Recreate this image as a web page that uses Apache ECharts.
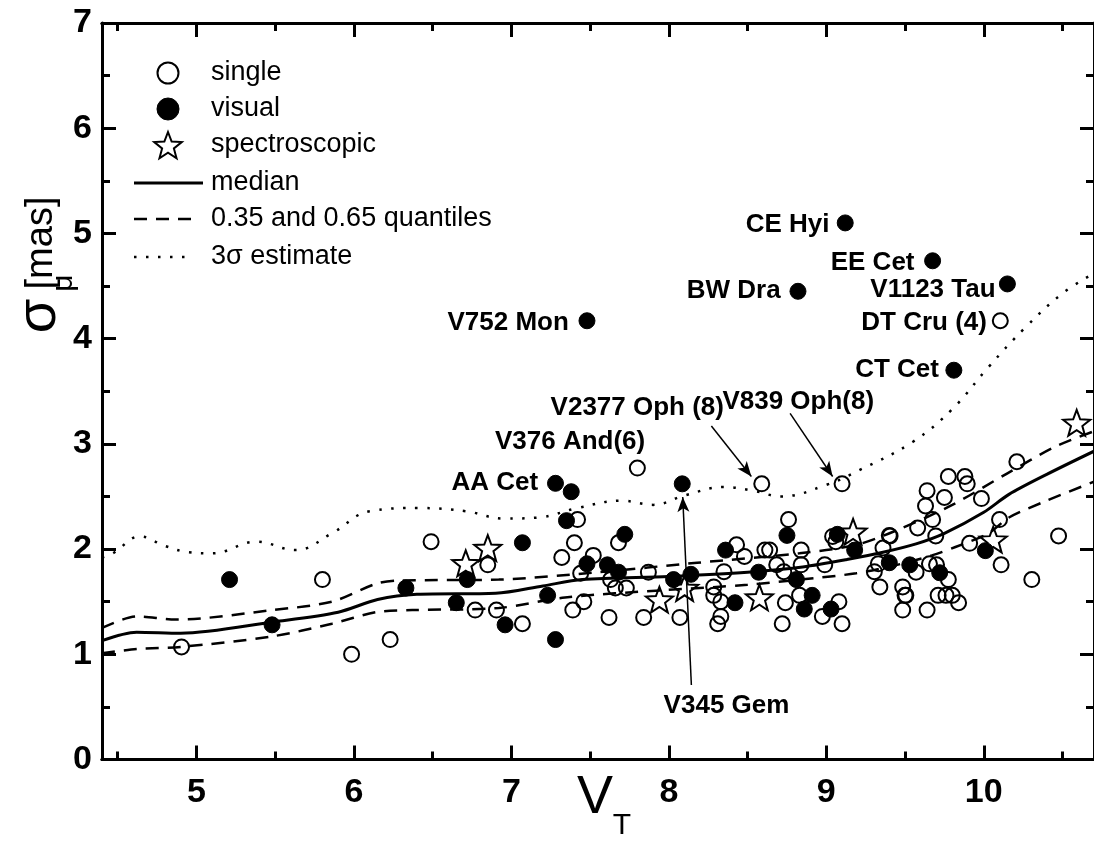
<!DOCTYPE html>
<html>
<head>
<meta charset="utf-8">
<script src="https://cdn.jsdelivr.net/npm/echarts@6/dist/echarts.min.js"></script>
<style>html,body{margin:0;padding:0;background:#fff}#c{width:1094px;height:844px}</style>
</head>
<body>
<div id="c"></div>
<script>
// ---------------- data ----------------
var xMajorTicks = [5, 6, 7, 8, 9, 10];
var xMinorTicks = [4.5, 5.5, 6.5, 7.5, 8.5, 9.5, 10.5];
var yTickLabels = [0, 1, 2, 3, 4, 5, 6, 7];

var single = [
  [4.905,1.07],[5.80,1.71],[5.985,1.00],[6.23,1.14],[6.49,2.07],[6.85,1.85],[6.77,1.42],[6.905,1.42],
  [7.07,1.29],[7.39,1.42],[7.46,1.50],[7.32,1.92],[7.40,2.06],[7.42,2.28],[7.44,1.77],[7.52,1.94],
  [7.80,2.77],[7.68,2.06],[7.63,1.71],[7.66,1.63],[7.73,1.63],[7.87,1.78],[7.62,1.35],[7.84,1.35],
  [8.07,1.35],[8.43,2.04],[8.48,1.93],[8.35,1.785],[8.285,1.64],[8.285,1.56],[8.33,1.50],[8.33,1.36],
  [8.31,1.29],[8.59,2.62],[9.10,2.62],[8.76,2.28],[8.61,1.99],[8.64,1.99],[8.84,1.99],[9.06,2.07],
  [9.04,2.12],[9.40,2.13],[9.36,2.01],[8.685,1.85],[8.73,1.785],[8.84,1.85],[8.99,1.85],[8.83,1.56],
  [8.74,1.49],[8.975,1.36],[9.08,1.50],[9.10,1.29],[8.72,1.29],[9.305,1.785],[9.34,1.64],[9.485,1.64],
  [9.505,1.56],[9.485,1.42],[10.21,2.83],[9.775,2.69],[9.88,2.69],[9.895,2.62],[9.64,2.555],[9.75,2.49],
  [9.985,2.48],[9.63,2.41],[9.675,2.28],[9.58,2.20],[9.695,2.125],[9.405,2.125],[10.10,2.28],[10.475,2.125],
  [9.91,2.055],[10.11,1.85],[10.305,1.71],[9.57,1.78],[9.655,1.86],[9.70,1.85],[9.775,1.71],[9.50,1.56],
  [9.71,1.56],[9.76,1.56],[9.80,1.56],[9.84,1.49],[9.64,1.42],[9.33,1.86],[10.105,4.17]
];
var visual = [
  [5.21,1.71],[5.48,1.28],[6.33,1.63],[6.72,1.71],[6.65,1.49],[6.96,1.28],[7.07,2.06],[7.23,1.56],
  [7.28,1.14],[7.35,2.27],[7.28,2.625],[7.38,2.545],[7.48,1.86],[7.61,1.85],[7.68,1.78],[7.72,2.14],
  [8.085,2.62],[8.03,1.71],[8.14,1.76],[8.36,1.99],[8.42,1.49],[8.57,1.78],[8.75,2.13],[8.81,1.71],
  [8.91,1.56],[8.86,1.43],[9.03,1.43],[9.07,2.14],[9.18,1.99],[9.40,1.87],[9.53,1.85],[9.72,1.775],
  [10.01,1.985],[9.12,5.10],[9.675,4.74],[8.82,4.45],[10.15,4.52],[7.48,4.17],[9.81,3.70]
];
var spectroscopic = [
  [6.71,1.865],[6.85,2.01],[7.94,1.52],[8.10,1.63],[8.575,1.54],[9.17,2.165],[10.06,2.09],[10.59,3.20]
];
var median = [
  [4.40,1.13],[4.62,1.21],[4.90,1.20],[5.50,1.31],[5.90,1.40],[6.15,1.52],[6.40,1.57],[6.90,1.58],
  [7.20,1.65],[7.45,1.71],[8.00,1.74],[8.50,1.78],[8.85,1.83],[9.13,1.90],[9.36,1.97],[9.57,2.05],
  [9.75,2.15],[10.0,2.35],[10.16,2.52],[10.40,2.71],[10.70,2.93]
];
var quantile65 = [
  [4.40,1.25],[4.62,1.36],[4.87,1.33],[5.48,1.42],[5.86,1.50],[6.14,1.67],[6.28,1.70],[6.92,1.71],
  [7.55,1.78],[8.18,1.87],[8.83,1.96],[9.19,2.04],[9.45,2.18],[9.80,2.42],[10.15,2.72],[10.45,2.97],[10.70,3.12]
];
var quantile35 = [
  [4.40,1.01],[4.62,1.05],[4.90,1.07],[5.48,1.17],[5.86,1.29],[6.14,1.40],[6.37,1.42],[6.92,1.44],
  [7.34,1.54],[7.97,1.61],[8.50,1.66],[8.83,1.71],[9.19,1.77],[9.45,1.85],[9.67,1.94],[9.82,2.02],
  [10.03,2.15],[10.16,2.30],[10.40,2.46],[10.70,2.64]
];
var sigma3 = [
  [4.40,1.92],[4.47,1.96],[4.64,2.12],[4.80,2.03],[4.95,1.97],[5.10,1.96],[5.38,2.07],[5.63,1.99],
  [5.86,2.15],[6.10,2.36],[6.41,2.39],[6.71,2.36],[6.95,2.29],[7.17,2.30],[7.42,2.39],[7.70,2.46],
  [7.90,2.42],[8.10,2.51],[8.35,2.59],[8.55,2.55],[8.71,2.50],[9.00,2.61],[9.21,2.75],[9.55,3.02],
  [9.80,3.33],[10.03,3.73],[10.26,4.10],[10.50,4.43],[10.70,4.62]
];
// star names: text, anchor x, anchor y, text alignment
var starNames  = ['CE Hyi','EE Cet','BW Dra','V1123 Tau','DT Cru (4)','V752 Mon','CT Cet','V2377 Oph (8)','V839 Oph(8)','V376 And(6)','AA Cet','V345 Gem'];
var nameX      = [9.02, 9.56, 8.71, 10.075, 10.02, 7.365, 9.715, 8.35, 8.34, 7.85, 7.17, 8.366];
var nameY      = [5.08, 4.72, 4.45, 4.46, 4.15, 4.15, 3.70, 3.34, 3.40, 3.02, 2.625, 0.51];
var nameAlign  = ['right','right','right','right','right','right','right','right','left','right','right','center'];
// arrows: [fromX, fromY, toX, toY]
var arrows = [
  [8.27, 3.17, 8.524, 2.69],
  [8.77, 3.29, 9.04, 2.69],
  [8.143, 0.708, 8.088, 2.495]
];
var legendNames = ['single','visual','spectroscopic','median','0.35 and 0.65 quantiles','3\u03c3 estimate'];

// ---------------- chart ----------------
var FONT = 'Liberation Sans, Arial, Helvetica, sans-serif';
function starPts(cx, cy, R, r) {
  var p = [];
  for (var i = 0; i < 10; i++) {
    var a = (-90 + i * 36) * Math.PI / 180, rad = (i % 2) ? r : R;
    p.push([cx + rad * Math.cos(a), cy + rad * Math.sin(a)]);
  }
  return p;
}
var sp = starPts(50, 50, 50, 21);
var starPath = 'path://M' + sp.map(function (q) { return q[0].toFixed(2) + ',' + q[1].toFixed(2); }).join(' L') + ' Z';

var chart = echarts.init(document.getElementById('c'), null, {renderer: 'canvas'});

function xAx(pos, ticks, len, labels) {
  return {
    type: 'value', min: 4.4, max: 10.7, position: pos,
    axisLine: {show: true, onZero: false, lineStyle: {color: '#000', width: 3}},
    axisTick: {show: true, inside: true, length: len, lineStyle: {color: '#000', width: 3}, customValues: ticks},
    axisLabel: labels ? {show: true, customValues: ticks, color: '#000', fontSize: 34, fontWeight: 'bold', fontFamily: FONT, margin: 16} : {show: false},
    splitLine: {show: false}
  };
}
function yAx(pos, labels) {
  return {
    type: 'value', min: 0, max: 7, interval: 1, position: pos,
    axisLine: {show: true, onZero: false, lineStyle: {color: '#000', width: 3}},
    axisTick: {show: true, inside: true, length: 14, lineStyle: {color: '#000', width: 3}},
    minorTick: {show: true, splitNumber: 2, length: 8, lineStyle: {color: '#000', width: 3}},
    axisLabel: labels ? {show: true, color: '#000', fontSize: 34, fontWeight: 'bold', fontFamily: FONT, margin: 10,
      formatter: function (v) { return yTickLabels.indexOf(v) >= 0 ? String(v) : ''; }} : {show: false},
    splitLine: {show: false}, minorSplitLine: {show: false}
  };
}

var labelData = starNames.map(function (n, i) {
  return {name: n, value: [nameX[i], nameY[i]], label: {align: nameAlign[i]}};
});
var arrowData = arrows.map(function (a) { return [{coord: [a[0], a[1]]}, {coord: [a[2], a[3]]}]; });

// legend graphics
var LX = 168, LT = 211, rows = [73, 109, 145, 183, 219, 257];
var graphics = [];
graphics.push({type: 'circle', shape: {cx: LX, cy: rows[0], r: 10.5}, style: {fill: 'none', stroke: '#000', lineWidth: 2}});
graphics.push({type: 'circle', shape: {cx: LX, cy: rows[1], r: 11}, style: {fill: '#000', stroke: '#000', lineWidth: 1}});
graphics.push({type: 'polygon', shape: {points: starPts(LX, rows[2] + 1.5, 14.5, 6.2)}, style: {fill: 'none', stroke: '#000', lineWidth: 2}});
graphics.push({type: 'line', shape: {x1: 134, y1: rows[3], x2: 203, y2: rows[3]}, style: {stroke: '#000', lineWidth: 3}});
graphics.push({type: 'line', shape: {x1: 134, y1: rows[4], x2: 192, y2: rows[4]}, style: {stroke: '#000', lineWidth: 2.5, lineDash: [13, 9]}});
graphics.push({type: 'line', shape: {x1: 134, y1: rows[5], x2: 192, y2: rows[5]}, style: {stroke: '#000', lineWidth: 2.5, lineDash: [2.5, 9.5]}});
legendNames.forEach(function (t, i) {
  graphics.push({type: 'text', style: {text: t, x: LT, y: rows[i], fontSize: 27, fontFamily: FONT, fill: '#000', align: 'left', verticalAlign: 'middle'}});
});
// axis titles
graphics.push({type: 'text', x: 40, y: 316, rotation: Math.PI / 2, style: {text: '\u03c3', fontSize: 56, fontFamily: FONT, fill: '#000', align: 'center', verticalAlign: 'middle'}});
graphics.push({type: 'text', x: 64, y: 283, rotation: Math.PI / 2, style: {text: '\u03bc', fontSize: 30, fontFamily: FONT, fill: '#000', align: 'center', verticalAlign: 'middle'}});
graphics.push({type: 'text', x: 42, y: 243, rotation: Math.PI / 2, style: {text: '[mas]', fontSize: 38, fontFamily: FONT, fill: '#000', align: 'center', verticalAlign: 'middle'}});
graphics.push({type: 'text', x: 595, y: 798, style: {text: 'V', fontSize: 54, fontFamily: FONT, fill: '#000', align: 'center', verticalAlign: 'middle'}});
graphics.push({type: 'text', x: 622, y: 826, style: {text: 'T', fontSize: 30, fontFamily: FONT, fill: '#000', align: 'center', verticalAlign: 'middle'}});

var option = {
  animation: false,
  backgroundColor: '#fff',
  grid: {left: 102, top: 23, width: 997, height: 736.5, containLabel: false},
  xAxis: [
    xAx('bottom', xMajorTicks, 14, true),
    xAx('bottom', xMinorTicks, 8, false),
    xAx('top', xMajorTicks, 14, false),
    xAx('top', xMinorTicks, 8, false)
  ],
  yAxis: [yAx('left', true), yAx('right', false)],
  graphic: graphics,
  series: [
    {name: 'visual', type: 'scatter', data: visual, symbol: 'circle', symbolSize: 16, silent: true,
      itemStyle: {color: '#000', borderColor: '#000', borderWidth: 1, opacity: 1}},
    {name: 'single', type: 'scatter', data: single, symbol: 'circle', symbolSize: 15, silent: true,
      itemStyle: {color: 'rgba(255,255,255,0)', borderColor: '#000', borderWidth: 2, opacity: 1}},
    {name: 'spectroscopic', type: 'scatter', data: spectroscopic, symbol: starPath, symbolSize: 27, symbolKeepAspect: true, silent: true,
      itemStyle: {color: 'rgba(255,255,255,0)', borderColor: '#000', borderWidth: 2, opacity: 1}},
    {name: 'median', type: 'line', data: median, smooth: 0.3, symbol: 'none', silent: true,
      lineStyle: {color: '#000', width: 3}},
    {name: 'q65', type: 'line', data: quantile65, smooth: 0.3, symbol: 'none', silent: true,
      lineStyle: {color: '#000', width: 2.5, type: [13, 9]}},
    {name: 'q35', type: 'line', data: quantile35, smooth: 0.3, symbol: 'none', silent: true,
      lineStyle: {color: '#000', width: 2.5, type: [13, 9]}},
    {name: '3sigma', type: 'line', data: sigma3, smooth: 0.4, symbol: 'none', silent: true,
      lineStyle: {color: '#000', width: 2.5, type: [2.5, 9.5]}},
    {name: 'names', type: 'scatter', data: labelData, symbolSize: 1, silent: true,
      itemStyle: {color: 'rgba(0,0,0,0)', opacity: 1},
      label: {show: true, position: 'inside', formatter: '{b}', color: '#000', fontSize: 26, fontWeight: 'bold', fontFamily: FONT, verticalAlign: 'middle'},
      markLine: {silent: true, symbol: ['none', 'arrow'], symbolSize: [9, 15], precision: 4,
        lineStyle: {color: '#000', width: 1.5, type: 'solid', opacity: 1}, label: {show: false}, emphasis: {disabled: true},
        data: arrowData}}
  ]
};
chart.setOption(option);
</script>
</body>
</html>
